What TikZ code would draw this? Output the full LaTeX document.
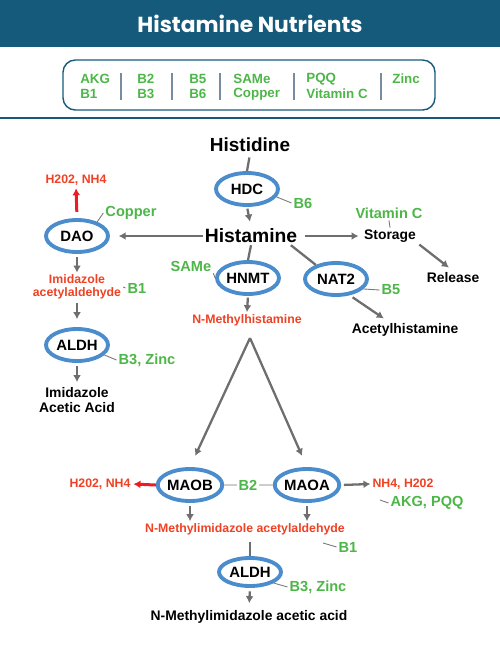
\documentclass[tikz,border=0pt]{standalone}
\usepackage{fontspec}
\setmainfont{Liberation Sans}
\newfontfamily\titlefont{Poppins}
\usetikzlibrary{shapes.geometric, arrows.meta}

\definecolor{hdrblue}{RGB}{21,90,122}
\definecolor{sepgrey}{RGB}{120,140,160}
\definecolor{nutgreen}{RGB}{77,182,72}
\definecolor{prodred}{RGB}{239,65,35}
\definecolor{arrred}{RGB}{237,28,36}
\definecolor{enzblue}{RGB}{74,140,204}
\definecolor{arrgrey}{RGB}{110,110,110}
\definecolor{leadgrey}{RGB}{120,120,120}
\definecolor{lightgrey}{RGB}{205,205,205}

\tikzset{
  >={Latex[length=4pt,width=4.5pt]},
  enzyme/.style={ellipse, draw=enzblue, line width=2.2pt, minimum width=1.24cm,
    minimum height=0.64cm, inner sep=0pt, font=\bfseries\fontsize{8.5}{10}\selectfont},
  nutr/.style={text=nutgreen, inner sep=1pt, font=\bfseries\fontsize{8.3}{10}\selectfont},
  boxnutr/.style={text=nutgreen, anchor=west, inner sep=0pt, font=\bfseries\fontsize{7.6}{9}\selectfont},
  prod/.style={text=prodred, inner sep=1pt, align=center, font=\bfseries\fontsize{7}{7.5}\selectfont},
  chem/.style={inner sep=1pt, align=center, font=\bfseries\fontsize{7.9}{8.2}\selectfont},
  arr/.style={->, draw=arrgrey, line width=1.3pt},
  redarr/.style={->, draw=arrred, line width=1.7pt},
  link/.style={draw=arrgrey, line width=1.3pt},
  lead/.style={draw=leadgrey, line width=0.5pt},
  lead2/.style={draw=lightgrey, line width=1.2pt}
}

\begin{document}
\begin{tikzpicture}[x=0.02cm, y=-0.02cm]
    \useasboundingbox (0, 0) rectangle (500, 654);

    % header
    \fill[hdrblue] (0, 0) rectangle (500, 47);
    \node (title) [text=white] at (250, 24) {\titlefont\bfseries\fontsize{12.4}{15}\selectfont Histamine Nutrients};
    \draw[hdrblue, line width=0.8pt, rounded corners=7pt] (63, 60) rectangle (435, 110);
    \foreach \x in {121, 172, 220, 294, 381}
        \draw[sepgrey, line width=1pt] (\x, 73) -- (\x, 100);
    \foreach \x/\a/\b in {80/AKG/B1, 137/B2/B3, 189/B5/B6, 233/SAMe/Copper, 306/PQQ/Vitamin C} {
        \node [boxnutr] at (\x, 79) {\a};
        \node [boxnutr] at (\x, 94) {\b};
    }
    \node (zinc) [boxnutr] at (392, 79) {Zinc};
    \draw[hdrblue, line width=1.1pt] (0, 118) -- (500, 118);

    % histidine -> histamine
    \node (histidine) [chem, font=\bfseries\fontsize{10.8}{12}\selectfont] at (250, 145) {Histidine};
    \node (hdc) [enzyme] at (247, 189) {HDC};
    \node (b6) [nutr] at (303, 203) {B6};
    \node (histamine) [chem, font=\bfseries\fontsize{11}{12}\selectfont] at (251, 236) {Histamine};
    \draw[link, shorten <=2pt] (histidine.south) -- (hdc.north);
    \draw[arr, shorten <=1pt, shorten >=3pt] (hdc.south) -- (histamine.north);
    \draw[lead] (hdc.-15) -- (b6.west);

    % DAO branch
    \node (dao) [enzyme] at (77, 236) {DAO};
    \node (daoout) [prod] at (76, 180) {H202, NH4};
    \node (copper) [nutr] at (131, 213) {Copper};
    \node (imal) [prod] at (77, 287) {Imidazole\\acetylaldehyde};
    \node (b1) [nutr] at (137, 288) {B1};
    \node (aldh1) [enzyme] at (77, 345) {ALDH};
    \node (b3zn1) [nutr] at (147, 360) {B3, Zinc};
    \node (iaa) [chem] at (77, 400) {Imidazole\\Acetic Acid};
    \draw[arr, shorten >=5pt] (histamine.west) -- (dao.east);
    \draw[redarr, shorten <=3.5pt, shorten >=0.5pt] (dao.north) -- (daoout.south);
    \draw[lead] (dao.35) -- (copper.west);
    \draw[arr, shorten <=2pt] (dao.south) -- (imal.north);
    \draw[lead] (imal.east) -- (b1.west);
    \draw[arr, shorten <=1pt, shorten >=4.5pt] (imal.south) -- (aldh1.north);
    \draw[lead] (aldh1.-20) -- (b3zn1.west);
    \draw[arr, shorten <=2pt, shorten >=2pt] (aldh1.south) -- (iaa.north);

    % storage
    \node (storage) [chem] at (390, 236) {Storage};
    \node (vitc) [nutr] at (389, 213) {Vitamin C};
    \node (release) [chem] at (453, 278) {Release};
    \draw[arr, shorten <=3pt, shorten >=2pt] (histamine.east) -- (storage.west);
    \draw[lead] (vitc.south) -- (storage.north);
    \draw[arr, shorten <=1pt, shorten >=3pt] (storage.-15) -- (release.north);

    % HNMT and NAT2
    \node (hnmt) [enzyme] at (248, 278) {HNMT};
    \node (same) [nutr] at (191, 266) {SAMe};
    \node (nmh) [prod] at (247, 320) {N-Methylhistamine};
    \node (nat2) [enzyme] at (336, 279) {NAT2};
    \node (b5) [nutr] at (391, 290) {B5};
    \node (acetyl) [chem] at (405, 330) {Acetylhistamine};
    \draw[link] (histamine.south) -- (hnmt.north);
    \draw[lead] (same.south east) -- (hnmt.west);
    \draw[arr, shorten <=1pt] (hnmt.south) -- (nmh.north);
    \draw[link] (histamine.-13) -- (nat2.145);
    \draw[lead] (nat2.-20) -- (b5.west);
    \draw[arr, shorten <=2pt, shorten >=3pt] (nat2.-50) -- (acetyl.153);

    % MAO
    \node (maob) [enzyme] at (190, 485) {MAOB};
    \node (maoa) [enzyme] at (307, 485) {MAOA};
    \node (b2) [nutr] at (248, 485) {B2};
    \node (maobout) [prod] at (100, 484) {H202, NH4};
    \node (maoaout) [prod] at (403, 484) {NH4, H202};
    \node (akg) [nutr] at (427, 503) {AKG, PQQ};
    \coordinate (apex) at (250, 338);
    \coordinate (akgtip) at (380, 500);
    \draw[arr, shorten >=7pt] (apex) -- (maob.north);
    \draw[arr, shorten >=7pt] (apex) -- (maoa.north);
    \draw[lead2] (maob.east) -- (b2.west);
    \draw[lead2] (b2.east) -- (maoa.west);
    \draw[redarr, shorten >=0.5pt] (maob.west) -- (maobout.east);
    \draw[arr, shorten <=1.5pt] (maoa.east) -- (maoaout.west);
    \draw[lead] (akgtip) -- (akg.west);

    % N-methylimidazole
    \node (nmia) [prod] at (245, 529) {N-Methylimidazole acetylaldehyde};
    \node (b1b) [nutr] at (348, 547) {B1};
    \coordinate (b1tip) at (323, 543);
    \node (aldh2) [enzyme, minimum height=0.56cm] at (250, 572) {ALDH};
    \node (b3zn2) [nutr] at (318, 587) {B3, Zinc};
    \node (nmaa) [chem] at (249, 617) {N-Methylimidazole acetic acid};
    \draw[arr, shorten <=2pt] (maob.south) -- (maob.south |- nmia.north);
    \draw[arr, shorten <=2pt] (maoa.south) -- (maoa.south |- nmia.north);
    \draw[lead] (b1tip) -- (b1b.west);
    \draw[link, shorten <=3pt] (aldh2.north |- nmia.south) -- (aldh2.north);
    \draw[lead] (aldh2.-25) -- (b3zn2.west);
    \draw[arr, shorten <=2pt, shorten >=3pt] (aldh2.south) -- (nmaa.north);
\end{tikzpicture}
\end{document}
